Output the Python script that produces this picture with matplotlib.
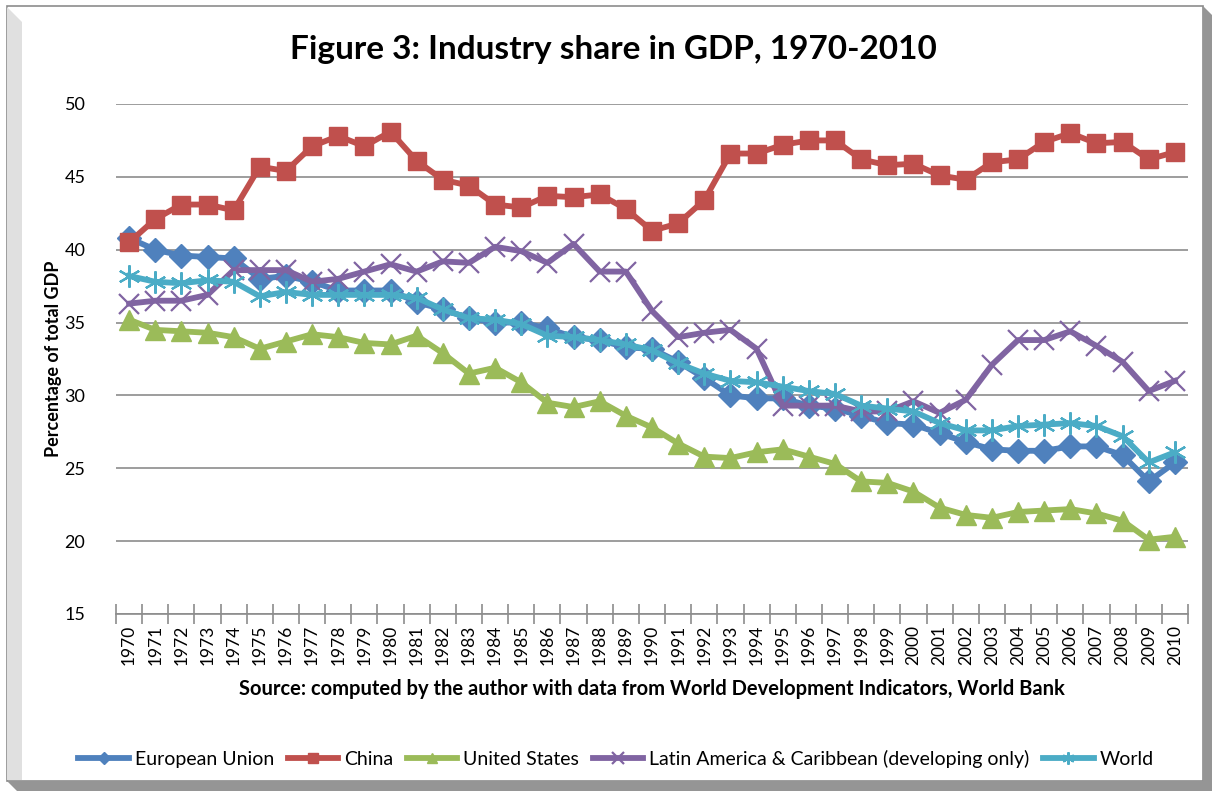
# -*- coding: utf-8 -*-
"""
Figure 3: Industry share in GDP, 1970-2010 (Excel style line chart)
"""
import matplotlib
matplotlib.use("Agg")
import matplotlib.pyplot as plt
from matplotlib.patches import Polygon

plt.rcParams["font.family"] = ["Lato", "DejaVu Sans"]

years = [str(y) for y in range(1970, 2011)]

eu = [40.8, 40.0, 39.6, 39.5, 39.4, 38.0, 38.2, 37.8, 37.2, 37.2,
      37.2, 36.4, 35.9, 35.3, 35.0, 35.0, 34.6, 34.0, 33.8, 33.3,
      33.2, 32.3, 31.2, 30.0, 29.8, 29.8, 29.3, 29.1, 28.6, 28.1,
      28.0, 27.4, 26.8, 26.3, 26.2, 26.2, 26.5, 26.5, 25.9, 24.1, 25.4]
china = [40.5, 42.1, 43.1, 43.1, 42.7, 45.7, 45.4, 47.1, 47.8, 47.1,
         48.1, 46.1, 44.8, 44.4, 43.1, 42.9, 43.7, 43.6, 43.8, 42.8,
         41.3, 41.8, 43.4, 46.6, 46.6, 47.2, 47.5, 47.5, 46.2, 45.8,
         45.9, 45.1, 44.8, 46.0, 46.2, 47.4, 48.0, 47.3, 47.4, 46.2, 46.7]
us = [35.2, 34.5, 34.4, 34.3, 34.0, 33.2, 33.7, 34.2, 34.0, 33.6,
      33.5, 34.1, 32.9, 31.5, 31.9, 30.9, 29.5, 29.2, 29.6, 28.6,
      27.8, 26.7, 25.8, 25.7, 26.1, 26.3, 25.8, 25.3, 24.1, 24.0,
      23.4, 22.3, 21.8, 21.6, 22.0, 22.1, 22.2, 21.9, 21.4, 20.1, 20.3]
latam = [36.3, 36.5, 36.5, 36.9, 38.6, 38.6, 38.6, 37.8, 38.0, 38.5,
         39.0, 38.5, 39.2, 39.1, 40.2, 39.9, 39.1, 40.4, 38.5, 38.5,
         35.8, 34.0, 34.3, 34.5, 33.2, 29.3, 29.3, 29.3, 28.9, 28.9,
         29.6, 28.8, 29.7, 32.1, 33.8, 33.8, 34.4, 33.4, 32.3, 30.3, 31.0]
world = [38.2, 37.8, 37.7, 37.9, 37.8, 36.8, 37.1, 36.9, 36.9, 36.9,
         36.9, 36.7, 35.9, 35.3, 35.2, 34.9, 34.1, 34.0, 33.8, 33.5,
         33.1, 32.2, 31.5, 31.0, 30.9, 30.6, 30.3, 30.1, 29.3, 29.1,
         28.9, 28.1, 27.6, 27.6, 27.9, 28.0, 28.1, 27.9, 27.2, 25.4, 26.1]

W, H = 1212, 791
fig = plt.figure(figsize=(W / 100, H / 100), dpi=100)


def px(x, y):
    return (x / W, 1 - y / H)


# Excel style chart frame with bevel / shadow (behind the axes)
frame = [
    ([px(7, 6), px(1203, 6), px(1203, 781), px(7, 781)], "white", "#8c8c8c"),
    ([px(7, 7), px(22, 22), px(22, 780), px(7, 780)], "#e0e0e0", "none"),
    ([px(1203, 6), px(1212, 15), px(1212, 791), px(1203, 791)], "#959595", "none"),
    ([px(7, 781), px(1212, 781), px(1212, 791), px(17, 791)], "#959595", "none"),
]
for pts, fc, ec in frame:
    fig.patches.append(Polygon(pts, closed=True, transform=fig.transFigure,
                               facecolor=fc, edgecolor=ec, lw=1.2, zorder=-5))

ax = fig.add_axes([116 / W, 1 - 614 / H, (1188 - 116) / W, (614 - 104) / H])
ax.set_facecolor("none")

x = list(range(len(years)))
series = [
    ("European Union", eu, "#4F81BD", "D", 12, 1.0),
    ("China", china, "#C0504D", "s", 13, 1.0),
    ("United States", us, "#9BBB59", "^", 14, 1.0),
    ("Latin America & Caribbean (developing only)", latam, "#8064A2", "x", 15, 1.6),
    ("World", world, "#4BACC6", (6, 2, 0), 16, 1.6),
]
for name, vals, col, mk, ms, mew in series:
    ax.plot(x, vals, color=col, lw=4.2, marker=mk, markersize=ms,
            markerfacecolor=col, markeredgecolor=col, markeredgewidth=mew,
            label=name, solid_joinstyle="round")

ax.set_xlim(-0.5, len(years) - 0.5)
ax.set_ylim(15, 50)
ax.set_yticks(range(15, 51, 5))
ax.grid(axis="y", color="#8c8c8c", lw=1.2)
ax.set_axisbelow(True)

ax.set_xticks(x)
ax.set_xticklabels(years, rotation=90, fontsize=12.5)
ax.set_xticks([i - 0.5 for i in range(len(years) + 1)], minor=True)
ax.tick_params(axis="x", which="major", length=0, pad=8)
ax.tick_params(axis="x", which="minor", length=14, direction="inout", color="#8c8c8c", width=1.2)
ax.tick_params(axis="y", length=0, labelsize=13, pad=22)

for s in ["left", "right", "top"]:
    ax.spines[s].set_visible(False)
ax.spines["bottom"].set_color("#8c8c8c")
ax.spines["bottom"].set_linewidth(1.2)

ax.set_ylabel("Percentage of total GDP", fontsize=13, fontweight="bold", labelpad=2)
ax.set_xlabel("Source: computed by the author with data from World Development Indicators, World Bank",
              fontsize=14.5, fontweight="bold", labelpad=10)

fig.text(613 / W, 1 - 50 / H, "Figure 3: Industry share in GDP, 1970-2010",
         ha="center", va="center", fontsize=24, fontweight="bold")

fig.legend(loc="center", bbox_to_anchor=px(616, 759), ncol=5, frameon=False,
           fontsize=14, handlelength=2.6, handletextpad=0.3, columnspacing=0.7,
           markerscale=0.55)

fig.savefig("out.png", dpi=100)
